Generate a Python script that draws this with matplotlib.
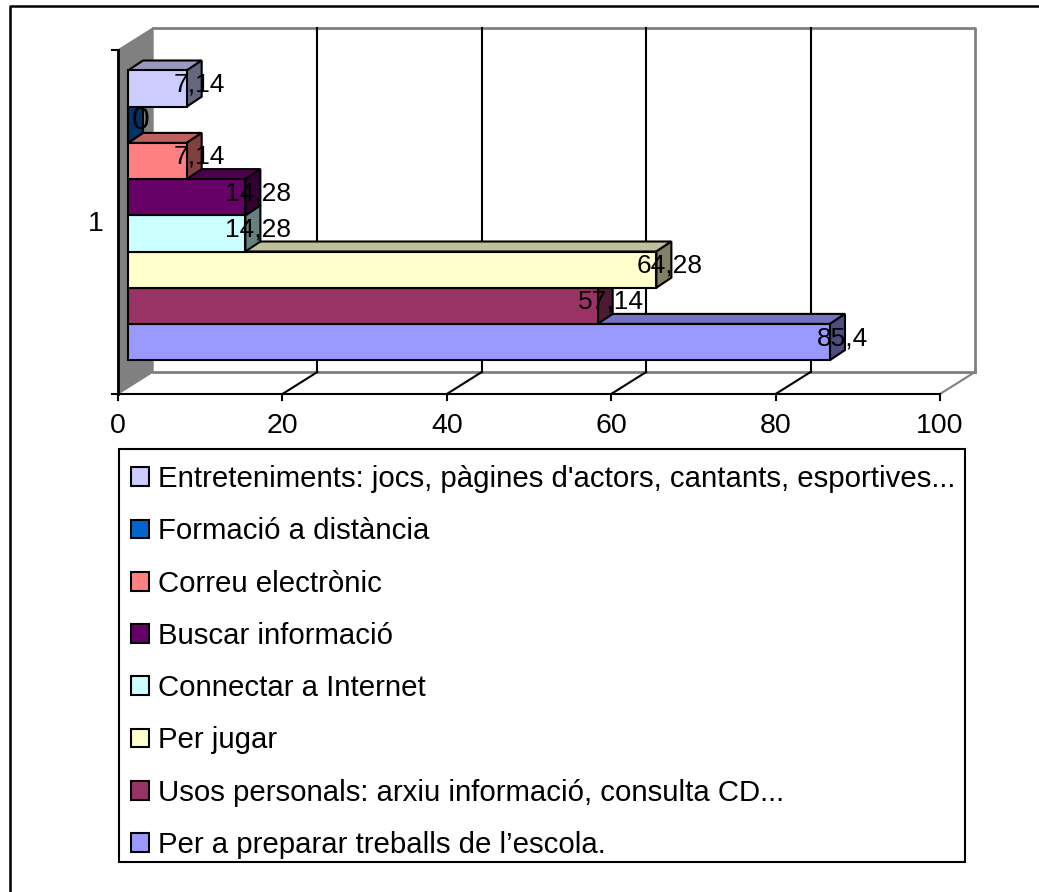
import matplotlib
matplotlib.use('Agg')
import matplotlib.pyplot as plt
from matplotlib.patches import Polygon, Rectangle
from matplotlib.colors import to_rgb

W, H = 1039, 892

labels = ['Per a preparar treballs de l’escola.',
          'Usos personals: arxiu informació, consulta CD...',
          'Per jugar',
          'Connectar a Internet',
          'Buscar informació',
          'Correu electrònic',
          'Formació a distància',
          "Entreteniments: jocs, pàgines d'actors, cantants, esportives..."]
values = [85.4, 57.14, 64.28, 14.28, 14.28, 7.14, 0, 7.14]
value_text = ['85,4', '57,14', '64,28', '14,28', '14,28', '7,14', '0', '7,14']
colors = ['#9999FF', '#993366', '#FFFFCC', '#CCFFFF', '#660066', '#FF8080', '#0066CC', '#CCCCFF']
xticks = [0, 20, 40, 60, 80, 100]

plt.rcParams['font.family'] = ['Liberation Sans', 'DejaVu Sans']

def shade(c, f):
    return tuple(v * f for v in to_rgb(c))

fig = plt.figure(figsize=(W / 100, H / 100), dpi=100)
# outer frame, only top and left are inside the picture
fig.add_artist(plt.Line2D([10 / W, 10 / W, 1], [0, 1 - 6 / H, 1 - 6 / H], color='black', lw=1.8))

# front plane of the 3d box, in pixels: x 118-940, y 50-394
ax = fig.add_axes([118 / W, 1 - 394 / H, 822 / W, 344 / H])
ax.set_xlim(0, 100)
ax.set_ylim(-1.436, 8.066)
ax.axis('off')

px = 8.22      # pixels per x unit
py = 36.2      # pixels per bar
wall_dx, wall_dy = 35 / px, 22 / py
bar_dx, bar_dy = 15 / px, 10 / py
bar_x0 = 10 / px
y0, y1 = -1.436, 8.066

# back wall, side wall
ax.add_patch(Polygon([(0, y0), (wall_dx, y0 + wall_dy), (wall_dx, y1 + wall_dy), (0, y1)],
                     facecolor='#808080', edgecolor='#808080', linewidth=1, clip_on=False, zorder=1))
ax.plot([wall_dx, 100 + wall_dx, 100 + wall_dx], [y1 + wall_dy, y1 + wall_dy, y0 + wall_dy],
        color='#808080', lw=2, clip_on=False, zorder=1)
ax.plot([wall_dx, 100 + wall_dx], [y0 + wall_dy, y0 + wall_dy], color='#808080', lw=2, clip_on=False, zorder=1)
ax.plot([100, 100 + wall_dx], [y0, y0 + wall_dy], color='#808080', lw=1.5, clip_on=False, zorder=1)

for t in xticks[1:-1]:
    ax.plot([t + wall_dx, t + wall_dx], [y0 + wall_dy, y1 + wall_dy], color='black', lw=1.5, clip_on=False, zorder=2)
    ax.plot([t, t + wall_dx], [y0, y0 + wall_dy], color='black', lw=1.5, clip_on=False, zorder=2)

# axis lines and ticks
ax.plot([0, 100], [y0, y0], color='black', lw=1.5, clip_on=False, zorder=3)
ax.plot([0, 0], [y0, y1], color='black', lw=2, clip_on=False, zorder=3)
ax.plot([-6 / px, 0], [y1, y1], color='black', lw=1.5, clip_on=False, zorder=3)
ax.plot([-6 / px, 0], [y0, y0], color='black', lw=1.5, clip_on=False, zorder=3)
for t in xticks:
    ax.plot([t, t], [y0, y0 - 6 / py], color='black', lw=1.5, clip_on=False, zorder=3)
    ax.text(t, y0 - 32 / py, str(t), ha='center', va='center', fontsize=20.5, zorder=10)
ax.text(-22 / px, 3.25, '1', ha='center', va='center', fontsize=20.5, zorder=10)

# bars
for i, (v, c) in enumerate(zip(values, colors)):
    z = 4 + i
    bot, top = i - 0.5, i + 0.5
    right = bar_x0 + v
    if v > 0:
        ax.add_patch(Polygon([(bar_x0, top), (bar_x0 + bar_dx, top + bar_dy),
                              (right + bar_dx, top + bar_dy), (right, top)],
                             facecolor=shade(c, 0.75), edgecolor='black', linewidth=1.5, zorder=z, clip_on=False))
    ax.add_patch(Polygon([(right, bot), (right + bar_dx, bot + bar_dy),
                          (right + bar_dx, top + bar_dy), (right, top)],
                         facecolor=shade(c, 0.5), edgecolor='black', linewidth=1.5, zorder=z, clip_on=False))
    ax.barh(i, v, height=1, left=bar_x0, color=c, edgecolor='black', linewidth=1.5, zorder=z)

# data labels
for i, (v, s) in enumerate(zip(values, value_text)):
    ax.text(bar_x0 + v + 13 / px, i + 4 / py, s, ha='center', va='center',
            fontsize=23 if v == 0 else 19, color='black', zorder=20)

# legend box and entries
fig.add_artist(Rectangle((119 / W, 1 - 862 / H), 846 / W, 413 / H, transform=fig.transFigure,
                         facecolor='white', edgecolor='black', linewidth=1.5))
handles = [Rectangle((0, 0), 1, 1, facecolor=c, edgecolor='black', linewidth=1.5) for c in colors[::-1]]
fig.legend(handles, labels[::-1], loc='upper left',
           bbox_to_anchor=(131 / W, 1 - 465 / H),
           fontsize=21.2, frameon=False,
           handlelength=0.6, handleheight=0.6, handletextpad=0.31, labelspacing=0.825,
           borderaxespad=0, borderpad=0)

fig.savefig('out.png', dpi=100)
